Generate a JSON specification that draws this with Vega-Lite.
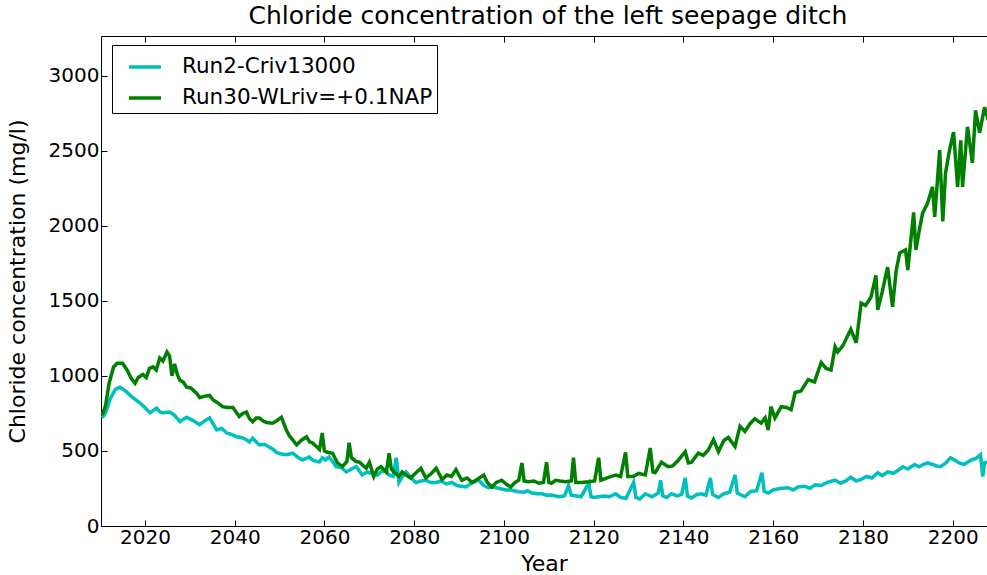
{
  "$schema": "https://vega.github.io/schema/vega-lite/v6.json",
  "width": 886,
  "height": 490,
  "autosize": {"type": "none"},
  "padding": {"left": 101, "top": 36, "right": 0, "bottom": 49},
  "background": "white",
  "title": {"text": "Chloride concentration of the left seepage ditch", "fontSize": 25, "font": "DejaVu Sans", "fontWeight": "normal", "color": "black", "offset": 7, "anchor": "middle", "dx": 4},
  "config": {
    "view": {"stroke": null},
    "font": "DejaVu Sans",
    "axis": {"grid": false, "domainColor": "black", "tickColor": "black", "labelColor": "black", "titleColor": "black", "labelFont": "DejaVu Sans", "titleFont": "DejaVu Sans", "labelFontSize": 20, "titleFontSize": 22, "titleFontWeight": "normal", "tickSize": -6, "labelPadding": 7, "domainWidth": 1}
  },
  "data": {"values": [
{"s":"Run2-Criv13000","year":2010.5,"v":720},{"s":"Run2-Criv13000","year":2011.3,"v":760},{"s":"Run2-Criv13000","year":2012.3,"v":850},{"s":"Run2-Criv13000","year":2013.4,"v":910},{"s":"Run2-Criv13000","year":2014.4,"v":925},{"s":"Run2-Criv13000","year":2015.2,"v":910},{"s":"Run2-Criv13000","year":2016,"v":890},{"s":"Run2-Criv13000","year":2017.3,"v":855},{"s":"Run2-Criv13000","year":2018.4,"v":830},{"s":"Run2-Criv13000","year":2019.5,"v":805},{"s":"Run2-Criv13000","year":2020.3,"v":780},{"s":"Run2-Criv13000","year":2021.1,"v":755},{"s":"Run2-Criv13000","year":2022.6,"v":785},{"s":"Run2-Criv13000","year":2023.3,"v":760},{"s":"Run2-Criv13000","year":2024,"v":755},{"s":"Run2-Criv13000","year":2025.5,"v":760},{"s":"Run2-Criv13000","year":2026.5,"v":740},{"s":"Run2-Criv13000","year":2027.8,"v":695},{"s":"Run2-Criv13000","year":2028.5,"v":710},{"s":"Run2-Criv13000","year":2029.3,"v":725},{"s":"Run2-Criv13000","year":2030.6,"v":705},{"s":"Run2-Criv13000","year":2031.4,"v":690},{"s":"Run2-Criv13000","year":2032.2,"v":675},{"s":"Run2-Criv13000","year":2033.3,"v":700},{"s":"Run2-Criv13000","year":2034.4,"v":720},{"s":"Run2-Criv13000","year":2035.2,"v":680},{"s":"Run2-Criv13000","year":2036,"v":640},{"s":"Run2-Criv13000","year":2037.1,"v":650},{"s":"Run2-Criv13000","year":2038.2,"v":620},{"s":"Run2-Criv13000","year":2039.3,"v":610},{"s":"Run2-Criv13000","year":2040.4,"v":595},{"s":"Run2-Criv13000","year":2041.5,"v":590},{"s":"Run2-Criv13000","year":2042.6,"v":575},{"s":"Run2-Criv13000","year":2043.3,"v":560},{"s":"Run2-Criv13000","year":2044,"v":585},{"s":"Run2-Criv13000","year":2044.8,"v":560},{"s":"Run2-Criv13000","year":2045.5,"v":540},{"s":"Run2-Criv13000","year":2046.6,"v":545},{"s":"Run2-Criv13000","year":2047.8,"v":525},{"s":"Run2-Criv13000","year":2048.6,"v":510},{"s":"Run2-Criv13000","year":2049.3,"v":490},{"s":"Run2-Criv13000","year":2050.4,"v":480},{"s":"Run2-Criv13000","year":2051.5,"v":475},{"s":"Run2-Criv13000","year":2052.2,"v":480},{"s":"Run2-Criv13000","year":2052.9,"v":485},{"s":"Run2-Criv13000","year":2054,"v":460},{"s":"Run2-Criv13000","year":2055.1,"v":440},{"s":"Run2-Criv13000","year":2055.9,"v":450},{"s":"Run2-Criv13000","year":2056.6,"v":460},{"s":"Run2-Criv13000","year":2057.3,"v":440},{"s":"Run2-Criv13000","year":2058.2,"v":430},{"s":"Run2-Criv13000","year":2058.9,"v":427},{"s":"Run2-Criv13000","year":2059.5,"v":455},{"s":"Run2-Criv13000","year":2060.2,"v":440},{"s":"Run2-Criv13000","year":2061,"v":460},{"s":"Run2-Criv13000","year":2061.8,"v":430},{"s":"Run2-Criv13000","year":2062.6,"v":395},{"s":"Run2-Criv13000","year":2063.7,"v":390},{"s":"Run2-Criv13000","year":2064.9,"v":360},{"s":"Run2-Criv13000","year":2066,"v":380},{"s":"Run2-Criv13000","year":2067.1,"v":395},{"s":"Run2-Criv13000","year":2068.4,"v":340},{"s":"Run2-Criv13000","year":2069.5,"v":360},{"s":"Run2-Criv13000","year":2070.6,"v":350},{"s":"Run2-Criv13000","year":2071.8,"v":340},{"s":"Run2-Criv13000","year":2072.6,"v":360},{"s":"Run2-Criv13000","year":2073.3,"v":375},{"s":"Run2-Criv13000","year":2074.4,"v":340},{"s":"Run2-Criv13000","year":2075.3,"v":330},{"s":"Run2-Criv13000","year":2076,"v":455},{"s":"Run2-Criv13000","year":2076.6,"v":290},{"s":"Run2-Criv13000","year":2077.4,"v":330},{"s":"Run2-Criv13000","year":2078.2,"v":360},{"s":"Run2-Criv13000","year":2079.3,"v":320},{"s":"Run2-Criv13000","year":2080.4,"v":290},{"s":"Run2-Criv13000","year":2081.5,"v":300},{"s":"Run2-Criv13000","year":2082.6,"v":305},{"s":"Run2-Criv13000","year":2083.7,"v":290},{"s":"Run2-Criv13000","year":2084.9,"v":290},{"s":"Run2-Criv13000","year":2086,"v":300},{"s":"Run2-Criv13000","year":2087.2,"v":280},{"s":"Run2-Criv13000","year":2088.4,"v":290},{"s":"Run2-Criv13000","year":2089.5,"v":270},{"s":"Run2-Criv13000","year":2090.5,"v":265},{"s":"Run2-Criv13000","year":2091.5,"v":260},{"s":"Run2-Criv13000","year":2093,"v":290},{"s":"Run2-Criv13000","year":2094.4,"v":305},{"s":"Run2-Criv13000","year":2095.5,"v":270},{"s":"Run2-Criv13000","year":2096.6,"v":255},{"s":"Run2-Criv13000","year":2097.7,"v":260},{"s":"Run2-Criv13000","year":2099,"v":250},{"s":"Run2-Criv13000","year":2100.4,"v":240},{"s":"Run2-Criv13000","year":2101.5,"v":240},{"s":"Run2-Criv13000","year":2102.2,"v":235},{"s":"Run2-Criv13000","year":2103.3,"v":228},{"s":"Run2-Criv13000","year":2104.5,"v":225},{"s":"Run2-Criv13000","year":2105.2,"v":235},{"s":"Run2-Criv13000","year":2106.2,"v":220},{"s":"Run2-Criv13000","year":2107.3,"v":215},{"s":"Run2-Criv13000","year":2108.5,"v":215},{"s":"Run2-Criv13000","year":2109.5,"v":205},{"s":"Run2-Criv13000","year":2110.6,"v":207},{"s":"Run2-Criv13000","year":2112.2,"v":195},{"s":"Run2-Criv13000","year":2113.5,"v":200},{"s":"Run2-Criv13000","year":2114.4,"v":270},{"s":"Run2-Criv13000","year":2115,"v":205},{"s":"Run2-Criv13000","year":2116.2,"v":200},{"s":"Run2-Criv13000","year":2117.2,"v":195},{"s":"Run2-Criv13000","year":2118.9,"v":285},{"s":"Run2-Criv13000","year":2119.4,"v":195},{"s":"Run2-Criv13000","year":2120.2,"v":190},{"s":"Run2-Criv13000","year":2121,"v":195},{"s":"Run2-Criv13000","year":2122.5,"v":200},{"s":"Run2-Criv13000","year":2123.5,"v":195},{"s":"Run2-Criv13000","year":2124.9,"v":215},{"s":"Run2-Criv13000","year":2126,"v":190},{"s":"Run2-Criv13000","year":2127.2,"v":185},{"s":"Run2-Criv13000","year":2128.9,"v":290},{"s":"Run2-Criv13000","year":2129.4,"v":190},{"s":"Run2-Criv13000","year":2130.3,"v":180},{"s":"Run2-Criv13000","year":2131.5,"v":215},{"s":"Run2-Criv13000","year":2133,"v":195},{"s":"Run2-Criv13000","year":2134.4,"v":220},{"s":"Run2-Criv13000","year":2134.9,"v":305},{"s":"Run2-Criv13000","year":2135.4,"v":200},{"s":"Run2-Criv13000","year":2136.3,"v":190},{"s":"Run2-Criv13000","year":2137.3,"v":215},{"s":"Run2-Criv13000","year":2138.6,"v":200},{"s":"Run2-Criv13000","year":2139.6,"v":210},{"s":"Run2-Criv13000","year":2140.4,"v":320},{"s":"Run2-Criv13000","year":2140.9,"v":200},{"s":"Run2-Criv13000","year":2141.8,"v":187},{"s":"Run2-Criv13000","year":2143,"v":210},{"s":"Run2-Criv13000","year":2144,"v":215},{"s":"Run2-Criv13000","year":2145,"v":205},{"s":"Run2-Criv13000","year":2146,"v":320},{"s":"Run2-Criv13000","year":2146.5,"v":210},{"s":"Run2-Criv13000","year":2147.8,"v":190},{"s":"Run2-Criv13000","year":2149,"v":215},{"s":"Run2-Criv13000","year":2150.3,"v":225},{"s":"Run2-Criv13000","year":2151.5,"v":340},{"s":"Run2-Criv13000","year":2152,"v":220},{"s":"Run2-Criv13000","year":2153.7,"v":195},{"s":"Run2-Criv13000","year":2155,"v":230},{"s":"Run2-Criv13000","year":2156.3,"v":235},{"s":"Run2-Criv13000","year":2157.5,"v":355},{"s":"Run2-Criv13000","year":2158,"v":230},{"s":"Run2-Criv13000","year":2158.9,"v":220},{"s":"Run2-Criv13000","year":2160,"v":240},{"s":"Run2-Criv13000","year":2161.5,"v":250},{"s":"Run2-Criv13000","year":2163.3,"v":255},{"s":"Run2-Criv13000","year":2164.5,"v":240},{"s":"Run2-Criv13000","year":2165.5,"v":260},{"s":"Run2-Criv13000","year":2167,"v":265},{"s":"Run2-Criv13000","year":2168.2,"v":250},{"s":"Run2-Criv13000","year":2169.3,"v":275},{"s":"Run2-Criv13000","year":2170.7,"v":270},{"s":"Run2-Criv13000","year":2172,"v":290},{"s":"Run2-Criv13000","year":2173.8,"v":305},{"s":"Run2-Criv13000","year":2175,"v":285},{"s":"Run2-Criv13000","year":2176.2,"v":300},{"s":"Run2-Criv13000","year":2177.3,"v":325},{"s":"Run2-Criv13000","year":2178.5,"v":300},{"s":"Run2-Criv13000","year":2179.6,"v":310},{"s":"Run2-Criv13000","year":2180.8,"v":330},{"s":"Run2-Criv13000","year":2182,"v":320},{"s":"Run2-Criv13000","year":2183.3,"v":355},{"s":"Run2-Criv13000","year":2184.3,"v":335},{"s":"Run2-Criv13000","year":2185.5,"v":360},{"s":"Run2-Criv13000","year":2186.8,"v":350},{"s":"Run2-Criv13000","year":2188,"v":375},{"s":"Run2-Criv13000","year":2188.9,"v":395},{"s":"Run2-Criv13000","year":2190,"v":380},{"s":"Run2-Criv13000","year":2191.5,"v":410},{"s":"Run2-Criv13000","year":2192.5,"v":395},{"s":"Run2-Criv13000","year":2193.5,"v":410},{"s":"Run2-Criv13000","year":2194.4,"v":420},{"s":"Run2-Criv13000","year":2195.5,"v":410},{"s":"Run2-Criv13000","year":2196.4,"v":400},{"s":"Run2-Criv13000","year":2197.3,"v":395},{"s":"Run2-Criv13000","year":2198.5,"v":420},{"s":"Run2-Criv13000","year":2199.5,"v":455},{"s":"Run2-Criv13000","year":2200.4,"v":440},{"s":"Run2-Criv13000","year":2201.5,"v":420},{"s":"Run2-Criv13000","year":2202.5,"v":410},{"s":"Run2-Criv13000","year":2203.3,"v":425},{"s":"Run2-Criv13000","year":2204.2,"v":440},{"s":"Run2-Criv13000","year":2205.2,"v":450},{"s":"Run2-Criv13000","year":2206.2,"v":475},{"s":"Run2-Criv13000","year":2206.7,"v":330},{"s":"Run2-Criv13000","year":2207.1,"v":420},{"s":"Run2-Criv13000","year":2208,"v":430},
{"s":"Run30-WLriv=+0.1NAP","year":2010.5,"v":740},{"s":"Run30-WLriv=+0.1NAP","year":2011.2,"v":800},{"s":"Run30-WLriv=+0.1NAP","year":2012,"v":950},{"s":"Run30-WLriv=+0.1NAP","year":2013,"v":1060},{"s":"Run30-WLriv=+0.1NAP","year":2013.8,"v":1085},{"s":"Run30-WLriv=+0.1NAP","year":2015,"v":1085},{"s":"Run30-WLriv=+0.1NAP","year":2016,"v":1040},{"s":"Run30-WLriv=+0.1NAP","year":2017,"v":980},{"s":"Run30-WLriv=+0.1NAP","year":2017.8,"v":950},{"s":"Run30-WLriv=+0.1NAP","year":2018.5,"v":990},{"s":"Run30-WLriv=+0.1NAP","year":2019.5,"v":1010},{"s":"Run30-WLriv=+0.1NAP","year":2020.3,"v":990},{"s":"Run30-WLriv=+0.1NAP","year":2021,"v":1050},{"s":"Run30-WLriv=+0.1NAP","year":2021.8,"v":1060},{"s":"Run30-WLriv=+0.1NAP","year":2022.5,"v":1040},{"s":"Run30-WLriv=+0.1NAP","year":2023.3,"v":1120},{"s":"Run30-WLriv=+0.1NAP","year":2024,"v":1100},{"s":"Run30-WLriv=+0.1NAP","year":2024.9,"v":1160},{"s":"Run30-WLriv=+0.1NAP","year":2025.5,"v":1130},{"s":"Run30-WLriv=+0.1NAP","year":2026,"v":1000},{"s":"Run30-WLriv=+0.1NAP","year":2026.6,"v":1080},{"s":"Run30-WLriv=+0.1NAP","year":2027.2,"v":1010},{"s":"Run30-WLriv=+0.1NAP","year":2027.8,"v":970},{"s":"Run30-WLriv=+0.1NAP","year":2028.5,"v":960},{"s":"Run30-WLriv=+0.1NAP","year":2029.3,"v":925},{"s":"Run30-WLriv=+0.1NAP","year":2030.2,"v":920},{"s":"Run30-WLriv=+0.1NAP","year":2031.5,"v":885},{"s":"Run30-WLriv=+0.1NAP","year":2032.2,"v":855},{"s":"Run30-WLriv=+0.1NAP","year":2033.3,"v":865},{"s":"Run30-WLriv=+0.1NAP","year":2034.4,"v":870},{"s":"Run30-WLriv=+0.1NAP","year":2035.2,"v":840},{"s":"Run30-WLriv=+0.1NAP","year":2036,"v":825},{"s":"Run30-WLriv=+0.1NAP","year":2037.3,"v":795},{"s":"Run30-WLriv=+0.1NAP","year":2038.3,"v":790},{"s":"Run30-WLriv=+0.1NAP","year":2039.6,"v":790},{"s":"Run30-WLriv=+0.1NAP","year":2041,"v":730},{"s":"Run30-WLriv=+0.1NAP","year":2041.8,"v":750},{"s":"Run30-WLriv=+0.1NAP","year":2042.6,"v":760},{"s":"Run30-WLriv=+0.1NAP","year":2043.3,"v":715},{"s":"Run30-WLriv=+0.1NAP","year":2044,"v":695},{"s":"Run30-WLriv=+0.1NAP","year":2044.8,"v":720},{"s":"Run30-WLriv=+0.1NAP","year":2045.5,"v":720},{"s":"Run30-WLriv=+0.1NAP","year":2046.3,"v":700},{"s":"Run30-WLriv=+0.1NAP","year":2047.1,"v":690},{"s":"Run30-WLriv=+0.1NAP","year":2048.4,"v":685},{"s":"Run30-WLriv=+0.1NAP","year":2049.3,"v":700},{"s":"Run30-WLriv=+0.1NAP","year":2050.4,"v":725},{"s":"Run30-WLriv=+0.1NAP","year":2051.5,"v":640},{"s":"Run30-WLriv=+0.1NAP","year":2052.2,"v":600},{"s":"Run30-WLriv=+0.1NAP","year":2052.9,"v":575},{"s":"Run30-WLriv=+0.1NAP","year":2053.8,"v":540},{"s":"Run30-WLriv=+0.1NAP","year":2054.8,"v":570},{"s":"Run30-WLriv=+0.1NAP","year":2056,"v":595},{"s":"Run30-WLriv=+0.1NAP","year":2056.7,"v":560},{"s":"Run30-WLriv=+0.1NAP","year":2057.3,"v":555},{"s":"Run30-WLriv=+0.1NAP","year":2058.2,"v":530},{"s":"Run30-WLriv=+0.1NAP","year":2058.9,"v":510},{"s":"Run30-WLriv=+0.1NAP","year":2059.5,"v":620},{"s":"Run30-WLriv=+0.1NAP","year":2060,"v":500},{"s":"Run30-WLriv=+0.1NAP","year":2060.8,"v":490},{"s":"Run30-WLriv=+0.1NAP","year":2061.8,"v":485},{"s":"Run30-WLriv=+0.1NAP","year":2062.9,"v":420},{"s":"Run30-WLriv=+0.1NAP","year":2064,"v":395},{"s":"Run30-WLriv=+0.1NAP","year":2065,"v":430},{"s":"Run30-WLriv=+0.1NAP","year":2065.5,"v":555},{"s":"Run30-WLriv=+0.1NAP","year":2066,"v":455},{"s":"Run30-WLriv=+0.1NAP","year":2067,"v":430},{"s":"Run30-WLriv=+0.1NAP","year":2067.8,"v":425},{"s":"Run30-WLriv=+0.1NAP","year":2069.3,"v":385},{"s":"Run30-WLriv=+0.1NAP","year":2070,"v":425},{"s":"Run30-WLriv=+0.1NAP","year":2071,"v":330},{"s":"Run30-WLriv=+0.1NAP","year":2071.8,"v":380},{"s":"Run30-WLriv=+0.1NAP","year":2072.6,"v":395},{"s":"Run30-WLriv=+0.1NAP","year":2073.8,"v":360},{"s":"Run30-WLriv=+0.1NAP","year":2074.4,"v":485},{"s":"Run30-WLriv=+0.1NAP","year":2074.9,"v":380},{"s":"Run30-WLriv=+0.1NAP","year":2075.5,"v":360},{"s":"Run30-WLriv=+0.1NAP","year":2076.6,"v":330},{"s":"Run30-WLriv=+0.1NAP","year":2077.3,"v":360},{"s":"Run30-WLriv=+0.1NAP","year":2078.2,"v":340},{"s":"Run30-WLriv=+0.1NAP","year":2079.2,"v":320},{"s":"Run30-WLriv=+0.1NAP","year":2080.4,"v":355},{"s":"Run30-WLriv=+0.1NAP","year":2081.5,"v":385},{"s":"Run30-WLriv=+0.1NAP","year":2082.6,"v":320},{"s":"Run30-WLriv=+0.1NAP","year":2083.8,"v":350},{"s":"Run30-WLriv=+0.1NAP","year":2084.9,"v":385},{"s":"Run30-WLriv=+0.1NAP","year":2086.2,"v":310},{"s":"Run30-WLriv=+0.1NAP","year":2087.3,"v":340},{"s":"Run30-WLriv=+0.1NAP","year":2088.3,"v":330},{"s":"Run30-WLriv=+0.1NAP","year":2089.3,"v":375},{"s":"Run30-WLriv=+0.1NAP","year":2090.6,"v":305},{"s":"Run30-WLriv=+0.1NAP","year":2091.8,"v":320},{"s":"Run30-WLriv=+0.1NAP","year":2092.9,"v":290},{"s":"Run30-WLriv=+0.1NAP","year":2094,"v":310},{"s":"Run30-WLriv=+0.1NAP","year":2095.5,"v":340},{"s":"Run30-WLriv=+0.1NAP","year":2096.3,"v":290},{"s":"Run30-WLriv=+0.1NAP","year":2097.3,"v":260},{"s":"Run30-WLriv=+0.1NAP","year":2098.3,"v":290},{"s":"Run30-WLriv=+0.1NAP","year":2099.5,"v":305},{"s":"Run30-WLriv=+0.1NAP","year":2100.5,"v":280},{"s":"Run30-WLriv=+0.1NAP","year":2101.5,"v":260},{"s":"Run30-WLriv=+0.1NAP","year":2102.5,"v":290},{"s":"Run30-WLriv=+0.1NAP","year":2103.3,"v":305},{"s":"Run30-WLriv=+0.1NAP","year":2104,"v":420},{"s":"Run30-WLriv=+0.1NAP","year":2104.5,"v":300},{"s":"Run30-WLriv=+0.1NAP","year":2105.5,"v":295},{"s":"Run30-WLriv=+0.1NAP","year":2106.7,"v":300},{"s":"Run30-WLriv=+0.1NAP","year":2107.8,"v":285},{"s":"Run30-WLriv=+0.1NAP","year":2108.8,"v":290},{"s":"Run30-WLriv=+0.1NAP","year":2109.5,"v":425},{"s":"Run30-WLriv=+0.1NAP","year":2110,"v":290},{"s":"Run30-WLriv=+0.1NAP","year":2110.6,"v":285},{"s":"Run30-WLriv=+0.1NAP","year":2111.5,"v":305},{"s":"Run30-WLriv=+0.1NAP","year":2112.5,"v":300},{"s":"Run30-WLriv=+0.1NAP","year":2113.7,"v":295},{"s":"Run30-WLriv=+0.1NAP","year":2115,"v":300},{"s":"Run30-WLriv=+0.1NAP","year":2115.5,"v":455},{"s":"Run30-WLriv=+0.1NAP","year":2116,"v":290},{"s":"Run30-WLriv=+0.1NAP","year":2117.2,"v":290},{"s":"Run30-WLriv=+0.1NAP","year":2118.9,"v":295},{"s":"Run30-WLriv=+0.1NAP","year":2120.2,"v":300},{"s":"Run30-WLriv=+0.1NAP","year":2121.1,"v":455},{"s":"Run30-WLriv=+0.1NAP","year":2121.6,"v":305},{"s":"Run30-WLriv=+0.1NAP","year":2123,"v":320},{"s":"Run30-WLriv=+0.1NAP","year":2124.9,"v":340},{"s":"Run30-WLriv=+0.1NAP","year":2126,"v":330},{"s":"Run30-WLriv=+0.1NAP","year":2127.1,"v":490},{"s":"Run30-WLriv=+0.1NAP","year":2127.6,"v":330},{"s":"Run30-WLriv=+0.1NAP","year":2128.8,"v":330},{"s":"Run30-WLriv=+0.1NAP","year":2130,"v":350},{"s":"Run30-WLriv=+0.1NAP","year":2131.5,"v":340},{"s":"Run30-WLriv=+0.1NAP","year":2132.6,"v":520},{"s":"Run30-WLriv=+0.1NAP","year":2133.2,"v":360},{"s":"Run30-WLriv=+0.1NAP","year":2133.7,"v":355},{"s":"Run30-WLriv=+0.1NAP","year":2135.1,"v":425},{"s":"Run30-WLriv=+0.1NAP","year":2136.6,"v":395},{"s":"Run30-WLriv=+0.1NAP","year":2137.6,"v":400},{"s":"Run30-WLriv=+0.1NAP","year":2138.9,"v":440},{"s":"Run30-WLriv=+0.1NAP","year":2140.4,"v":495},{"s":"Run30-WLriv=+0.1NAP","year":2141.1,"v":420},{"s":"Run30-WLriv=+0.1NAP","year":2141.8,"v":425},{"s":"Run30-WLriv=+0.1NAP","year":2143.3,"v":485},{"s":"Run30-WLriv=+0.1NAP","year":2144.4,"v":470},{"s":"Run30-WLriv=+0.1NAP","year":2145.5,"v":505},{"s":"Run30-WLriv=+0.1NAP","year":2146.7,"v":575},{"s":"Run30-WLriv=+0.1NAP","year":2147.8,"v":495},{"s":"Run30-WLriv=+0.1NAP","year":2149,"v":570},{"s":"Run30-WLriv=+0.1NAP","year":2150,"v":590},{"s":"Run30-WLriv=+0.1NAP","year":2151.5,"v":530},{"s":"Run30-WLriv=+0.1NAP","year":2152.6,"v":665},{"s":"Run30-WLriv=+0.1NAP","year":2153.7,"v":630},{"s":"Run30-WLriv=+0.1NAP","year":2154.8,"v":680},{"s":"Run30-WLriv=+0.1NAP","year":2155.9,"v":715},{"s":"Run30-WLriv=+0.1NAP","year":2157.3,"v":685},{"s":"Run30-WLriv=+0.1NAP","year":2158.2,"v":720},{"s":"Run30-WLriv=+0.1NAP","year":2158.9,"v":640},{"s":"Run30-WLriv=+0.1NAP","year":2159.5,"v":795},{"s":"Run30-WLriv=+0.1NAP","year":2160.4,"v":720},{"s":"Run30-WLriv=+0.1NAP","year":2161.8,"v":795},{"s":"Run30-WLriv=+0.1NAP","year":2163,"v":790},{"s":"Run30-WLriv=+0.1NAP","year":2164,"v":775},{"s":"Run30-WLriv=+0.1NAP","year":2164.9,"v":890},{"s":"Run30-WLriv=+0.1NAP","year":2166.2,"v":900},{"s":"Run30-WLriv=+0.1NAP","year":2167.8,"v":975},{"s":"Run30-WLriv=+0.1NAP","year":2169.2,"v":960},{"s":"Run30-WLriv=+0.1NAP","year":2170.7,"v":1090},{"s":"Run30-WLriv=+0.1NAP","year":2171.8,"v":1050},{"s":"Run30-WLriv=+0.1NAP","year":2172.9,"v":1040},{"s":"Run30-WLriv=+0.1NAP","year":2173.8,"v":1195},{"s":"Run30-WLriv=+0.1NAP","year":2174.4,"v":1160},{"s":"Run30-WLriv=+0.1NAP","year":2175.5,"v":1200},{"s":"Run30-WLriv=+0.1NAP","year":2176.3,"v":1250},{"s":"Run30-WLriv=+0.1NAP","year":2177.3,"v":1310},{"s":"Run30-WLriv=+0.1NAP","year":2178.5,"v":1220},{"s":"Run30-WLriv=+0.1NAP","year":2179.6,"v":1485},{"s":"Run30-WLriv=+0.1NAP","year":2180.6,"v":1470},{"s":"Run30-WLriv=+0.1NAP","year":2181.8,"v":1525},{"s":"Run30-WLriv=+0.1NAP","year":2182.9,"v":1670},{"s":"Run30-WLriv=+0.1NAP","year":2183.3,"v":1440},{"s":"Run30-WLriv=+0.1NAP","year":2184.3,"v":1560},{"s":"Run30-WLriv=+0.1NAP","year":2185.5,"v":1725},{"s":"Run30-WLriv=+0.1NAP","year":2186.6,"v":1460},{"s":"Run30-WLriv=+0.1NAP","year":2187.4,"v":1700},{"s":"Run30-WLriv=+0.1NAP","year":2188.2,"v":1820},{"s":"Run30-WLriv=+0.1NAP","year":2189.5,"v":1840},{"s":"Run30-WLriv=+0.1NAP","year":2190,"v":1705},{"s":"Run30-WLriv=+0.1NAP","year":2191.3,"v":2090},{"s":"Run30-WLriv=+0.1NAP","year":2191.8,"v":1840},{"s":"Run30-WLriv=+0.1NAP","year":2192.5,"v":1960},{"s":"Run30-WLriv=+0.1NAP","year":2193.3,"v":2085},{"s":"Run30-WLriv=+0.1NAP","year":2194.4,"v":2150},{"s":"Run30-WLriv=+0.1NAP","year":2195.5,"v":2260},{"s":"Run30-WLriv=+0.1NAP","year":2196,"v":2060},{"s":"Run30-WLriv=+0.1NAP","year":2197.1,"v":2505},{"s":"Run30-WLriv=+0.1NAP","year":2197.8,"v":2030},{"s":"Run30-WLriv=+0.1NAP","year":2198.4,"v":2350},{"s":"Run30-WLriv=+0.1NAP","year":2199.3,"v":2505},{"s":"Run30-WLriv=+0.1NAP","year":2200.2,"v":2625},{"s":"Run30-WLriv=+0.1NAP","year":2201.1,"v":2260},{"s":"Run30-WLriv=+0.1NAP","year":2201.8,"v":2570},{"s":"Run30-WLriv=+0.1NAP","year":2202.2,"v":2260},{"s":"Run30-WLriv=+0.1NAP","year":2203.3,"v":2660},{"s":"Run30-WLriv=+0.1NAP","year":2204.4,"v":2420},{"s":"Run30-WLriv=+0.1NAP","year":2205.1,"v":2770},{"s":"Run30-WLriv=+0.1NAP","year":2206,"v":2620},{"s":"Run30-WLriv=+0.1NAP","year":2207.1,"v":2790},{"s":"Run30-WLriv=+0.1NAP","year":2208,"v":2700}
  ]},
  "layer": [
    {
      "mark": {"type": "line", "strokeWidth": 3.5, "clip": true},
      "encoding": {
        "x": {"field": "year", "type": "quantitative", "scale": {"domain": [2010.2, 2207.65], "nice": false, "zero": false},
              "axis": {"orient": "bottom", "title": "Year", "values": [2020,2040,2060,2080,2100,2120,2140,2160,2180,2200], "format": "d", "titlePadding": 6}},
        "y": {"field": "v", "type": "quantitative", "scale": {"domain": [0, 3265], "nice": false},
              "axis": {"title": "Chloride concentration (mg/l)", "values": [0,500,1000,1500,2000,2500,3000], "format": "d", "labelPadding": 8, "titlePadding": 19}},
        "color": {"field": "s", "type": "nominal",
                  "scale": {"domain": ["Run2-Criv13000", "Run30-WLriv=+0.1NAP"], "range": ["#00bfbf", "#008000"]},
                  "legend": {"title": null, "orient": "none", "legendX": 11, "legendY": 9, "strokeColor": "black", "fillColor": "white", "padding": 4, "symbolType": "stroke", "symbolSize": 1024, "symbolStrokeWidth": 3.5, "symbolOffset": 11, "labelFontSize": 21.5, "labelFont": "DejaVu Sans", "labelColor": "black", "labelOffset": 19, "rowPadding": 2, "labelLimit": 400}}
      }
    },
    {
      "mark": {"type": "line", "strokeOpacity": 0, "clip": true},
      "encoding": {
        "x": {"field": "year", "type": "quantitative", "axis": {"orient": "top", "labels": false, "title": null, "values": [2020,2040,2060,2080,2100,2120,2140,2160,2180,2200]}},
        "y": {"field": "v", "type": "quantitative", "axis": null},
        "detail": {"field": "s"}
      }
    }
  ],
  "resolve": {"axis": {"x": "independent", "y": "independent"}}
}
